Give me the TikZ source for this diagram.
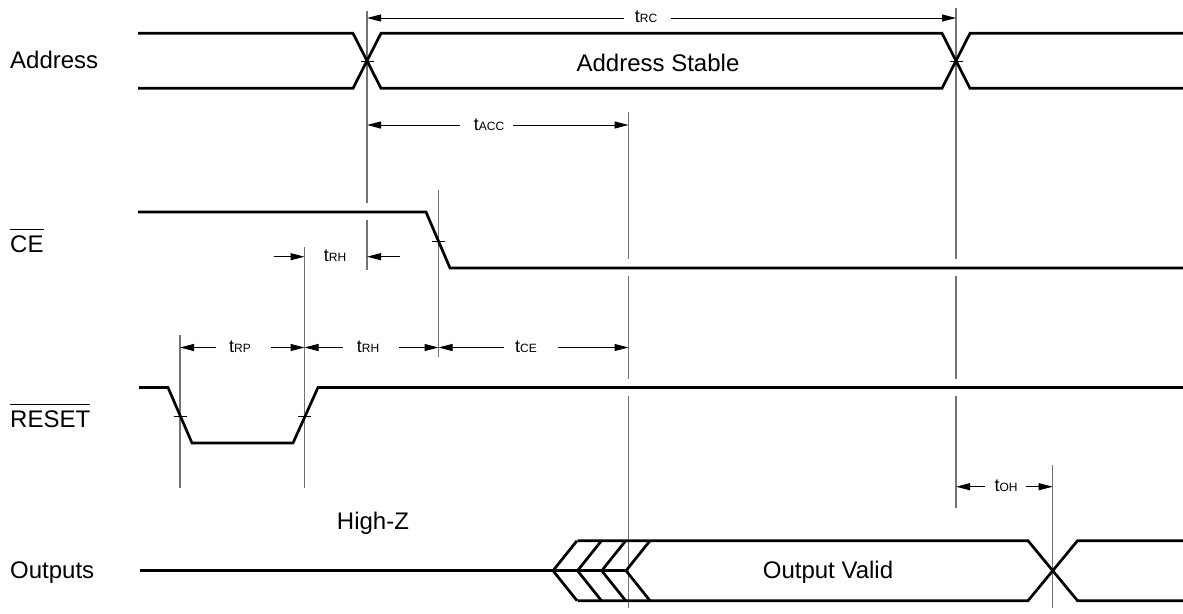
\documentclass[tikz,border=0pt]{standalone}
\usepackage{fontspec}
\setmainfont{Liberation Sans}
\usetikzlibrary{arrows.meta}
\definecolor{vgray}{RGB}{115,115,115}
\newcommand{\tlab}[2]{{\fontsize{18}{20}\selectfont #1}{\fontsize{12}{14}\selectfont #2}}
\newcommand{\ovlbl}[1]{\setbox0=\hbox{#1}\rlap{\raisebox{\dimexpr\ht0+5.5pt\relax}{\rule{\wd0}{1.2pt}}}\box0}
\begin{document}
\begin{tikzpicture}[x=1pt,y=-1pt,
  sig/.style={line width=2.7pt, line join=miter},
  vref/.style={vgray, line width=1.5pt},
  dim/.style={line width=1pt, -{Triangle[length=14pt,width=7pt]}},
  tck/.style={line width=1pt},
  lbl/.style={font=\fontsize{24}{28}\selectfont, inner sep=0pt, anchor=base west},
  txt/.style={font=\fontsize{24}{28}\selectfont, inner sep=0pt, anchor=base},
  dl/.style={inner sep=0pt, anchor=base}]
\useasboundingbox (0,0) rectangle (1183,613);

% ---- signal names
\node[lbl] (laddr) at (10,68) {Address};
\node[lbl] (lce)   at (10,252) {\ovlbl{CE}};
\node[lbl] (lrst)  at (10,427) {\ovlbl{RESET}};
\node[lbl] (lout)  at (10,578) {Outputs};

% ---- vertical reference lines
\draw[vref] (367,11) -- (367,203) (367,220) -- (367,270);
\draw[vref] (628.5,112) -- (628.5,259) (628.5,276) -- (628.5,379) (628.5,396) -- (628.5,608);
\draw[vref] (956,8) -- (956,259) (956,276) -- (956,379) (956,396) -- (956,508);
\draw[vref] (1052.7,465) -- (1052.7,608);
\draw[vref] (438.5,190) -- (438.5,357);
\draw[vref] (304.5,247) -- (304.5,488);
\draw[vref] (180,335) -- (180,488);

% ---- Address bus
\draw[sig] (138,33.3) -- (353,33.3) -- (381,88.3) -- (942,88.3) -- (970,33.3) -- (1183,33.3);
\draw[sig] (138,88.3) -- (353,88.3) -- (381,33.3) -- (942,33.3) -- (970,88.3) -- (1183,88.3);
\node[txt] (astab) at (658,71) {Address Stable};

% ---- CE
\draw[sig] (138,212) -- (426,212) -- (450,268) -- (1183,268);

% ---- RESET
\draw[sig] (139,387.5) -- (168,387.5) -- (192,443) -- (293,443) -- (318,387.5) -- (1183,387.5);

% ---- Outputs
\draw[sig] (140,570.7) -- (626,570.7);
\foreach \t in {553,577.5,601.7,626}{
  \draw[sig] (\t+24,540.7) -- (\t,570.7) -- (\t+24,600.7);
}
\draw[sig] (577.5,540.7) -- (1028,540.7) -- (1077.5,600.7) -- (1183,600.7);
\draw[sig] (577.5,600.7) -- (1028,600.7) -- (1077.5,540.7) -- (1183,540.7);
\node[txt] (hiz) at (373,529) {High-Z};
\node[txt] (oval) at (828,578) {Output Valid};

% ---- ticks at crossings
\draw[tck] (360.5,61) -- (373.5,61);
\draw[tck] (949.5,61) -- (962.5,61);
\draw[tck] (432,241) -- (445,241);
\draw[tck] (173.5,416) -- (186.5,416);
\draw[tck] (298,416) -- (311,416);

% ---- timing dimensions
\node[dl] (trc) at (646,23) {\tlab{t}{RC}};
\draw[dim] (624,18) -- (367,18);
\draw[dim] (671,18) -- (956,18);

\node[dl] (tacc) at (489,130) {\tlab{t}{ACC}};
\draw[dim] (460,125) -- (367,125);
\draw[dim] (513,125) -- (628.5,125);

\node[dl] (trh1) at (335,261.7) {\tlab{t}{RH}};
\draw[dim] (273.6,256.7) -- (304.5,256.7);
\draw[dim] (400,256.7) -- (367,256.7);

\node[dl] (trp) at (240,352.5) {\tlab{t}{RP}};
\draw[dim] (216,347.5) -- (180,347.5);
\draw[dim] (270.7,347.5) -- (304.5,347.5);

\node[dl] (trh2) at (368,352.5) {\tlab{t}{RH}};
\draw[dim] (343,347.5) -- (304.5,347.5);
\draw[dim] (398.6,347.5) -- (438.5,347.5);

\node[dl] (tce) at (526,352.5) {\tlab{t}{CE}};
\draw[dim] (504,347.5) -- (438.5,347.5);
\draw[dim] (557.5,347.5) -- (628.5,347.5);

\node[dl] (toh) at (1006,491.7) {\tlab{t}{OH}};
\draw[dim] (985,486.7) -- (956,486.7);
\draw[dim] (1026,486.7) -- (1052.7,486.7);
\end{tikzpicture}
\end{document}
